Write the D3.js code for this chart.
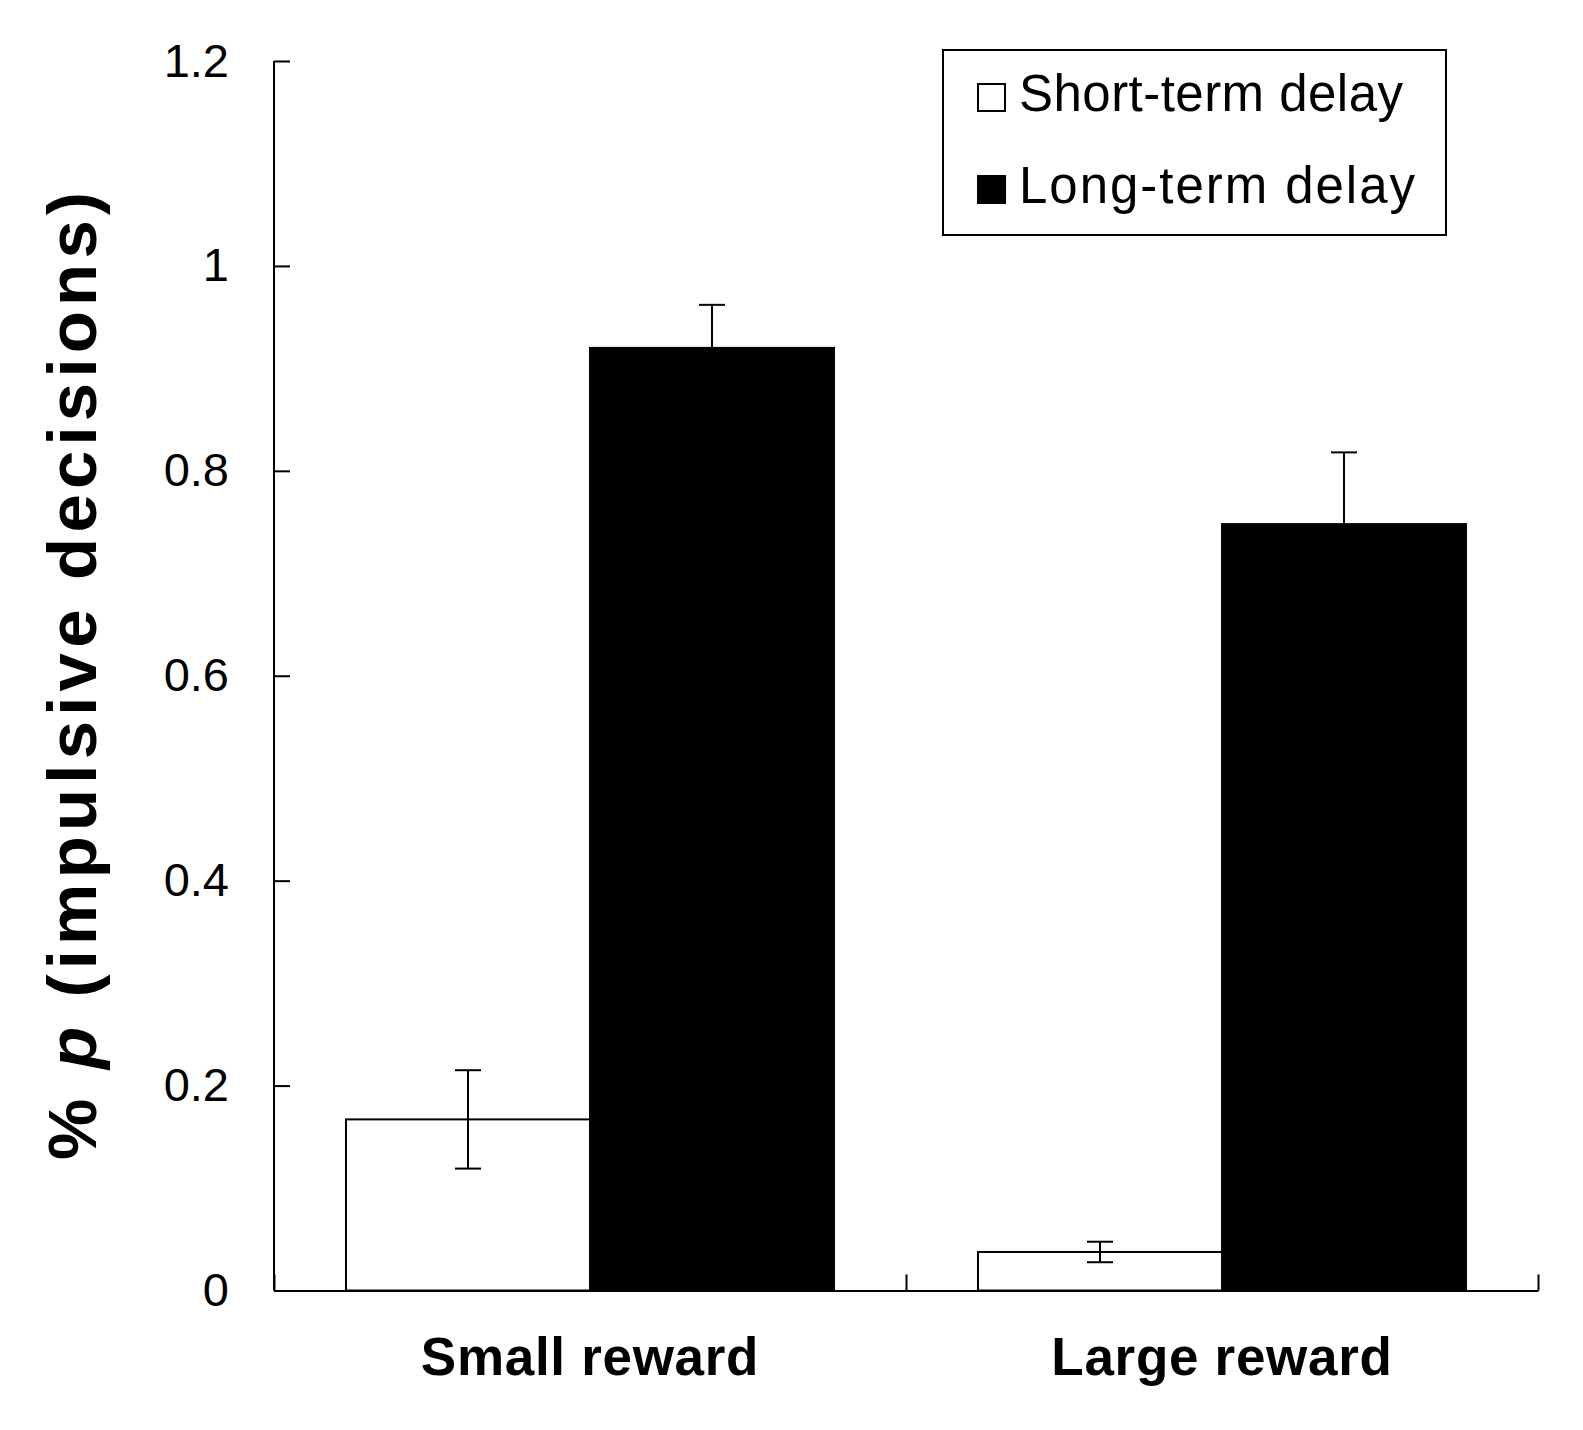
<!DOCTYPE html>
<html>
<head>
<meta charset="utf-8">
<script src="https://cdn.jsdelivr.net/npm/d3@7"></script>
<style>
  body { margin: 0; background: #fff; }
  svg { display: block; font-family: "Liberation Sans", Arial, sans-serif; }
</style>
</head>
<body>
<svg id="chart" width="1583" height="1430"></svg>
<script>
var categories = ["Small reward", "Large reward"];
var seriesNames = ["Short-term delay", "Long-term delay"];
var shortValues = [0.167, 0.0376];
var longValues = [0.920, 0.748];
var shortErrors = [0.048, 0.010];
var longErrors = [0.042, 0.070];
var yTicks = [0, 0.2, 0.4, 0.6, 0.8, 1, 1.2];
var yTickLabels = ["0", "0.2", "0.4", "0.6", "0.8", "1", "1.2"];

var LEFT = 274, RIGHT = 1538, TOP = 61, BOTTOM = 1290.5;
var seriesFill = ["#ffffff", "#000000"];

var svg = d3.select("#chart");

var x0 = d3.scaleBand().domain(categories).range([LEFT, RIGHT]).padding(0);
var x1 = d3.scaleBand().domain(seriesNames).range([0, x0.bandwidth()])
    .paddingInner(0).paddingOuter(0.295);
var y = d3.scaleLinear().domain([0, 1.2]).range([BOTTOM, TOP]);

// build rows from the arrays
var rows = [];
categories.forEach(function(c, i) {
    rows.push({cat: c, s: 0, name: seriesNames[0], value: shortValues[i], err: shortErrors[i]});
    rows.push({cat: c, s: 1, name: seriesNames[1], value: longValues[i], err: longErrors[i]});
});

// bars
svg.append("g").selectAll("rect")
    .data(rows)
    .enter().append("rect")
    .attr("x", function(d) { return x0(d.cat) + x1(d.name); })
    .attr("y", function(d) { return y(d.value); })
    .attr("width", x1.bandwidth())
    .attr("height", function(d) { return y(0) - y(d.value); })
    .style("fill", function(d) { return seriesFill[d.s]; })
    .style("stroke", "#000")
    .style("stroke-width", 2);

// error bars
var CAP = 13;
var eb = svg.append("g").selectAll("g")
    .data(rows)
    .enter().append("g")
    .attr("transform", function(d) {
        return "translate(" + (x0(d.cat) + x1(d.name) + x1.bandwidth() / 2) + ",0)";
    });
eb.append("line")
    .attr("x1", 0).attr("x2", 0)
    .attr("y1", function(d) { return y(d.value + d.err); })
    .attr("y2", function(d) { return y(d.value - d.err); });
eb.append("line")
    .attr("x1", -CAP).attr("x2", CAP)
    .attr("y1", function(d) { return y(d.value + d.err); })
    .attr("y2", function(d) { return y(d.value + d.err); });
eb.append("line")
    .attr("x1", -CAP).attr("x2", CAP)
    .attr("y1", function(d) { return y(d.value - d.err); })
    .attr("y2", function(d) { return y(d.value - d.err); });
eb.selectAll("line").style("stroke", "#000").style("stroke-width", 2);

// y axis, ticks pointing inward
var yAxis = d3.axisLeft(y)
    .tickValues(yTicks)
    .tickFormat(function(d, i) { return yTickLabels[i]; })
    .tickSize(-16)
    .tickPadding(45);
var gy = svg.append("g").attr("transform", "translate(" + LEFT + ",0)").call(yAxis);
gy.select(".domain").attr("d", "M0," + TOP + "V" + BOTTOM);
gy.selectAll("line, path").style("stroke", "#000").style("stroke-width", 2);
gy.selectAll("text")
    .style("font-size", "47px")
    .style("font-family", "'Liberation Sans', Arial, sans-serif")
    .style("fill", "#000");

// x axis: boundary ticks pointing up
var xb = d3.scaleLinear().domain([0, categories.length]).range([LEFT, RIGHT]);
var xAxis = d3.axisBottom(xb)
    .tickValues(d3.range(categories.length + 1))
    .tickFormat("")
    .tickSize(-16)
    .tickSizeOuter(0);
var gx = svg.append("g").attr("transform", "translate(0," + BOTTOM + ")").call(xAxis);
gx.selectAll("line, path").style("stroke", "#000").style("stroke-width", 2);

// category labels
svg.append("g").selectAll("text")
    .data(categories)
    .enter().append("text")
    .attr("x", function(d) { return x0(d) + x0.bandwidth() / 2; })
    .attr("y", 1375)
    .attr("text-anchor", "middle")
    .style("font-size", "53px")
    .style("font-weight", "bold")
    .style("letter-spacing", "0.7px")
    .text(function(d) { return d; });

// y title
var title = svg.append("text")
    .attr("transform", "translate(96,676) rotate(-90)")
    .attr("text-anchor", "middle")
    .attr("textLength", 968)
    .attr("lengthAdjust", "spacing")
    .style("font-size", "69px")
    .style("font-weight", "bold");
title.append("tspan").text("% ");
title.append("tspan").style("font-style", "italic").text("p");
title.append("tspan").text(" (impulsive decisions)");

// legend
var legend = svg.append("g");
legend.append("rect")
    .attr("x", 943).attr("y", 50)
    .attr("width", 503).attr("height", 185)
    .style("fill", "#fff")
    .style("stroke", "#000")
    .style("stroke-width", 2);
var items = legend.selectAll("g.item")
    .data(seriesNames)
    .enter().append("g")
    .attr("class", "item")
    .attr("transform", function(d, i) { return "translate(0," + (i * 92) + ")"; });
items.append("rect")
    .attr("x", 978).attr("y", 84)
    .attr("width", 27).attr("height", 27)
    .style("fill", function(d, i) { return seriesFill[i]; })
    .style("stroke", "#000")
    .style("stroke-width", 2);
items.append("text")
    .attr("x", 1019).attr("y", 111)
    .attr("textLength", function(d, i) { return [384, 396][i]; })
    .attr("lengthAdjust", "spacing")
    .style("font-size", "51px")
    .text(function(d) { return d; });
</script>
</body>
</html>
